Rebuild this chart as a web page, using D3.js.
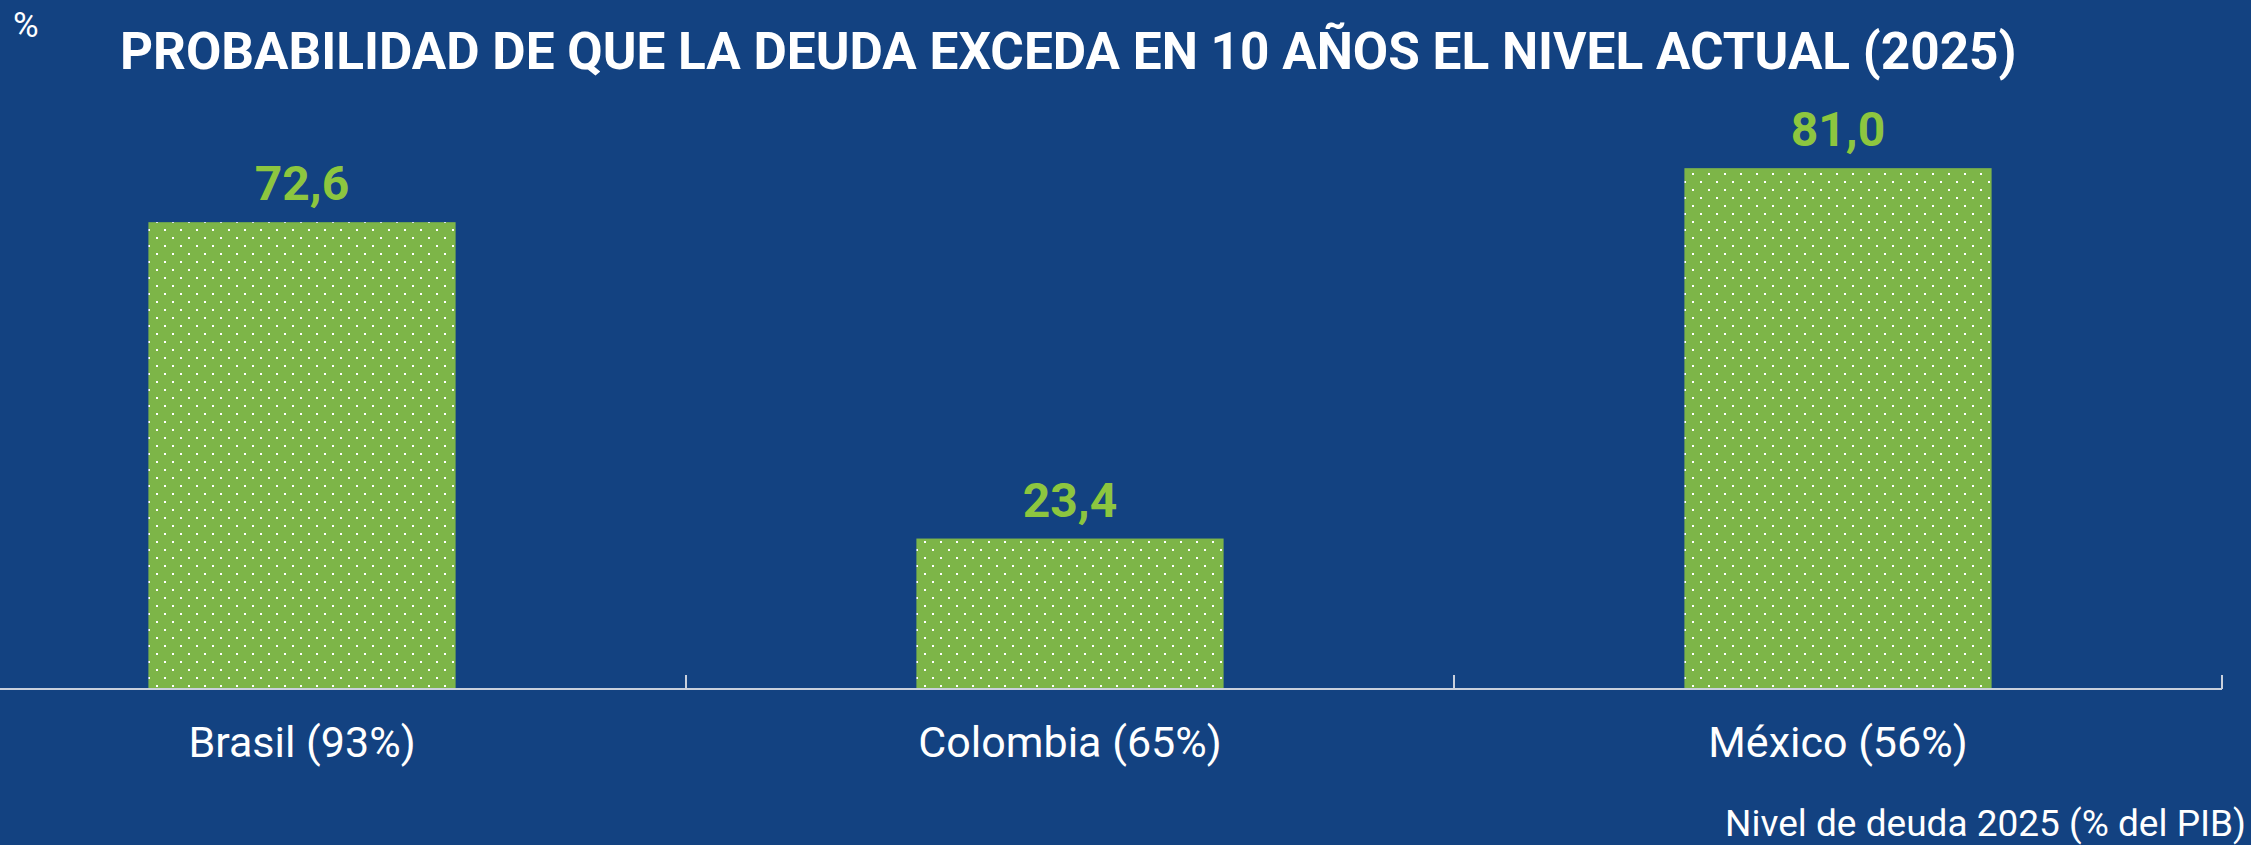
<!DOCTYPE html>
<html>
<head>
<meta charset="utf-8">
<script src="https://cdn.jsdelivr.net/npm/d3@7"></script>
<style>
  html, body { margin: 0; padding: 0; background: #134281; }
  svg { display: block; font-family: Roboto, "Noto Sans", sans-serif; }
</style>
</head>
<body>
<svg id="chart" width="2251" height="845"></svg>
<script>
const categories = ["Brasil (93%)", "Colombia (65%)", "México (56%)"];
const values = [72.6, 23.4, 81.0];
const titleText = "PROBABILIDAD DE QUE LA DEUDA EXCEDA EN 10 AÑOS EL NIVEL ACTUAL (2025)";
const unitText = "%";
const footText = "Nivel de deuda 2025 (% del PIB)";

const bg = "#134281", barGreen = "#7db548", labelGreen = "#8dc63f", axisColor = "#c9d0dc";

const svg = d3.select("#chart");
const width = +svg.attr("width"), height = +svg.attr("height");

const data = categories.map((c, i) => ({cat: c, value: values[i]}));

const x = d3.scaleBand()
      .domain(categories)
      .range([-82, 2222])
      .paddingInner(0.6)
      .paddingOuter(0.3);

const y = d3.scaleLinear()
      .domain([0, 100])
      .range([689, 46]);

svg.append("rect")
    .attr("width", width).attr("height", height)
    .attr("fill", bg);

// dotted fill
const pat = svg.append("defs").append("pattern")
      .attr("id", "dots")
      .attr("patternUnits", "userSpaceOnUse")
      .attr("x", 148).attr("y", 229)
      .attr("width", 16).attr("height", 16);
pat.append("rect").attr("width", 16).attr("height", 16).attr("fill", barGreen);
pat.append("rect").attr("x", 0).attr("y", 0).attr("width", 2).attr("height", 2).attr("fill", "#fff");
pat.append("rect").attr("x", 8).attr("y", 8).attr("width", 2).attr("height", 2).attr("fill", "#fff");

svg.selectAll("rect.bar").data(data)
    .enter().append("rect")
    .attr("class", "bar")
    .attr("x", d => x(d.cat))
    .attr("y", d => y(d.value))
    .attr("width", x.bandwidth())
    .attr("height", d => y(0) - y(d.value))
    .attr("fill", "url(#dots)");

svg.selectAll("text.val").data(data)
    .enter().append("text")
    .attr("class", "val")
    .attr("x", d => x(d.cat) + x.bandwidth() / 2)
    .attr("y", d => y(d.value) - 22)
    .attr("text-anchor", "middle")
    .attr("font-size", 48)
    .attr("font-weight", 700)
    .attr("fill", labelGreen)
    .text(d => d3.format(".1f")(d.value).replace(".", ","));

// category labels
const xAxis = d3.axisBottom(x)
      .tickSize(0)
      .tickPadding(37);

const ax = svg.append("g")
      .attr("transform", `translate(0, ${y(0)})`)
      .call(xAxis);
ax.select(".domain").remove();
ax.selectAll("text")
    .attr("font-size", 43)
    .attr("font-family", "Roboto, sans-serif")
    .attr("fill", "#fff");

// baseline and band separators
const base = svg.append("g").attr("transform", `translate(0, ${y(0)})`);
base.append("line")
    .attr("x1", x.range()[0]).attr("x2", x.range()[1])
    .attr("stroke", axisColor).attr("stroke-width", 2);
base.selectAll("line.sep").data(categories)
    .enter().append("line")
    .attr("class", "sep")
    .attr("x1", d => x(d) + x.bandwidth() / 2 + x.step() / 2)
    .attr("x2", d => x(d) + x.bandwidth() / 2 + x.step() / 2)
    .attr("y1", 0).attr("y2", -14)
    .attr("stroke", axisColor).attr("stroke-width", 2);

svg.append("text")
    .attr("x", 120).attr("y", 69)
    .attr("font-size", 51.3)
    .attr("font-weight", 700)
    .attr("fill", "#fff")
    .text(titleText);

svg.append("text")
    .attr("x", 13).attr("y", 37)
    .attr("font-size", 35)
    .attr("fill", "#fff")
    .text(unitText);

svg.append("text")
    .attr("x", 2246).attr("y", 836)
    .attr("text-anchor", "end")
    .attr("font-size", 37)
    .attr("fill", "#fff")
    .text(footText);
</script>
</body>
</html>
